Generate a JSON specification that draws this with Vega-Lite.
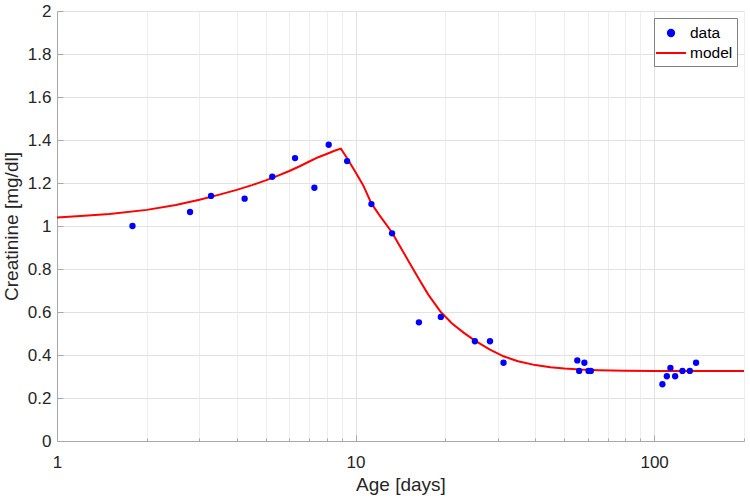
{
  "$schema": "https://vega.github.io/schema/vega-lite/v6.json",
  "width": 687,
  "height": 430,
  "autosize": {"type": "none"},
  "padding": {"left": 57, "top": 11, "right": 6, "bottom": 59},
  "background": "white",
  "config": {"view": {"stroke": null}, "font": "Liberation Sans"},
  "encoding": {
    "x": {
      "field": "age", "type": "quantitative",
      "scale": {"type": "log", "domain": [1, 200], "nice": false},
      "axis": {
        "title": "Age [days]",
        "titleFontSize": 19, "titleFontWeight": "normal", "titleColor": "#262626",
        "titlePadding": 2,
        "values": [1, 2, 3, 4, 5, 6, 7, 8, 9, 10, 20, 30, 40, 50, 60, 70, 80, 90, 100, 200],
        "labelExpr": "indexof([1, 10, 100], datum.value) >= 0 ? format(datum.value, 'd') : ''",
        "labelFontSize": 17, "labelColor": "#262626", "labelPadding": 19,
        "labelFlush": false, "labelOverlap": false,
        "domainColor": "#a8a8a8",
        "tickColor": "#a8a8a8",
        "tickSize": {"condition": {"test": "indexof([1, 10, 100], datum.value) >= 0", "value": -6}, "value": -3},
        "grid": true,
        "gridColor": {"condition": {"test": "indexof([1, 10, 100], datum.value) >= 0", "value": "#e2e2e2"}, "value": "#eeeeee"}
      }
    },
    "y": {
      "field": "creat", "type": "quantitative",
      "scale": {"domain": [0, 2], "nice": false},
      "axis": {
        "title": "Creatinine [mg/dl]",
        "titleFontSize": 19, "titleFontWeight": "normal", "titleColor": "#262626",
        "titlePadding": 6,
        "values": [0, 0.2, 0.4, 0.6, 0.8, 1, 1.2, 1.4, 1.6, 1.8, 2],
        "format": "~g",
        "labelFontSize": 17, "labelColor": "#262626", "labelPadding": 12,
        "labelFlush": false, "labelOverlap": false,
        "domainColor": "#a8a8a8",
        "tickColor": "#a8a8a8", "tickSize": -6,
        "grid": true, "gridColor": "#e2e2e2"
      }
    },
    "color": {
      "field": "series", "type": "nominal",
      "scale": {"domain": ["data", "model"], "range": ["#0000ff", "#ff0000"]},
      "legend": {
        "title": null,
        "orient": "top-right",
        "offset": 7,
        "strokeColor": "#808080",
        "fillColor": "white",
        "padding": 4,
        "symbolSize": 400,
        "symbolStrokeWidth": 2,
        "labelFontSize": 15.5,
        "labelColor": "#000000",
        "labelOffset": 10,
        "rowPadding": 0,
        "encode": {
          "symbols": {
            "update": {
              "x": {"value": 13},
              "shape": {"signal": "datum.value === 'data' ? 'circle' : 'M-1.5,0H1.5'"},
              "size": {"signal": "datum.value === 'data' ? 40 : 400"},
              "fill": {"signal": "datum.value === 'data' ? '#0000ff' : 'transparent'"},
              "stroke": {"signal": "datum.value === 'data' ? 'transparent' : '#ff0000'"},
              "strokeWidth": {"value": 2}
            }
          }
        }
      }
    }
  },
  "layer": [
    {
      "data": {"values": [
        {"age": 1, "creat": 1.04, "series": "model"},
        {"age": 1.2, "creat": 1.046, "series": "model"},
        {"age": 1.5, "creat": 1.056, "series": "model"},
        {"age": 2, "creat": 1.075, "series": "model"},
        {"age": 2.5, "creat": 1.098, "series": "model"},
        {"age": 3, "creat": 1.122, "series": "model"},
        {"age": 3.5, "creat": 1.146, "series": "model"},
        {"age": 4, "creat": 1.168, "series": "model"},
        {"age": 4.5, "creat": 1.19, "series": "model"},
        {"age": 5, "creat": 1.212, "series": "model"},
        {"age": 5.5, "creat": 1.234, "series": "model"},
        {"age": 6, "creat": 1.256, "series": "model"},
        {"age": 6.5, "creat": 1.278, "series": "model"},
        {"age": 7, "creat": 1.3, "series": "model"},
        {"age": 7.5, "creat": 1.32, "series": "model"},
        {"age": 8, "creat": 1.335, "series": "model"},
        {"age": 8.5, "creat": 1.35, "series": "model"},
        {"age": 8.93, "creat": 1.36, "series": "model"},
        {"age": 9.37, "creat": 1.315, "series": "model"},
        {"age": 10, "creat": 1.25, "series": "model"},
        {"age": 10.6, "creat": 1.19, "series": "model"},
        {"age": 11.3, "creat": 1.105, "series": "model"},
        {"age": 12, "creat": 1.052, "series": "model"},
        {"age": 13.25, "creat": 0.97, "series": "model"},
        {"age": 14, "creat": 0.912, "series": "model"},
        {"age": 15, "creat": 0.84, "series": "model"},
        {"age": 16.3, "creat": 0.753, "series": "model"},
        {"age": 17.5, "creat": 0.682, "series": "model"},
        {"age": 19.3, "creat": 0.6, "series": "model"},
        {"age": 21, "creat": 0.548, "series": "model"},
        {"age": 23, "creat": 0.504, "series": "model"},
        {"age": 25.1, "creat": 0.467, "series": "model"},
        {"age": 28.2, "creat": 0.425, "series": "model"},
        {"age": 31.3, "creat": 0.394, "series": "model"},
        {"age": 35, "creat": 0.371, "series": "model"},
        {"age": 40, "creat": 0.353, "series": "model"},
        {"age": 45, "creat": 0.343, "series": "model"},
        {"age": 50, "creat": 0.337, "series": "model"},
        {"age": 56.5, "creat": 0.332, "series": "model"},
        {"age": 65, "creat": 0.329, "series": "model"},
        {"age": 80, "creat": 0.327, "series": "model"},
        {"age": 100, "creat": 0.326, "series": "model"},
        {"age": 200, "creat": 0.326, "series": "model"}
      ]},
      "mark": {"type": "line", "strokeWidth": 2}
    },
    {
      "data": {"values": [
        {"age": 1.79, "creat": 1.0, "series": "data"},
        {"age": 2.79, "creat": 1.065, "series": "data"},
        {"age": 3.28, "creat": 1.14, "series": "data"},
        {"age": 4.25, "creat": 1.127, "series": "data"},
        {"age": 5.26, "creat": 1.229, "series": "data"},
        {"age": 6.27, "creat": 1.316, "series": "data"},
        {"age": 7.28, "creat": 1.178, "series": "data"},
        {"age": 8.13, "creat": 1.378, "series": "data"},
        {"age": 9.37, "creat": 1.302, "series": "data"},
        {"age": 11.3, "creat": 1.102, "series": "data"},
        {"age": 13.25, "creat": 0.966, "series": "data"},
        {"age": 16.3, "creat": 0.552, "series": "data"},
        {"age": 19.3, "creat": 0.577, "series": "data"},
        {"age": 25.1, "creat": 0.464, "series": "data"},
        {"age": 28.2, "creat": 0.464, "series": "data"},
        {"age": 31.3, "creat": 0.364, "series": "data"},
        {"age": 55.3, "creat": 0.375, "series": "data"},
        {"age": 56.1, "creat": 0.326, "series": "data"},
        {"age": 58.4, "creat": 0.364, "series": "data"},
        {"age": 60.3, "creat": 0.326, "series": "data"},
        {"age": 61.4, "creat": 0.326, "series": "data"},
        {"age": 106.6, "creat": 0.264, "series": "data"},
        {"age": 110.3, "creat": 0.301, "series": "data"},
        {"age": 113.4, "creat": 0.34, "series": "data"},
        {"age": 117.6, "creat": 0.301, "series": "data"},
        {"age": 124.4, "creat": 0.326, "series": "data"},
        {"age": 131.7, "creat": 0.326, "series": "data"},
        {"age": 138.2, "creat": 0.364, "series": "data"}
      ]},
      "mark": {"type": "point", "filled": true, "size": 40, "opacity": 1}
    }
  ]
}
